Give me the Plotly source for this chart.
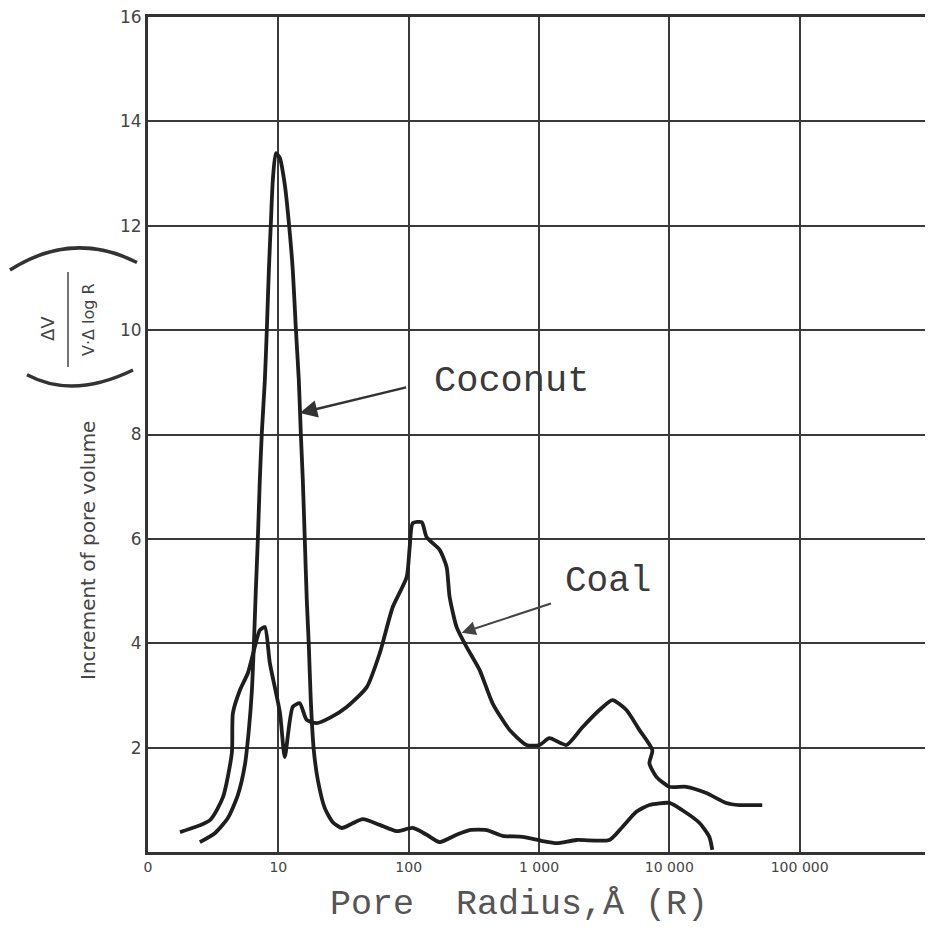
import math
import plotly.graph_objects as go

# Pore radius (Å) and increment of pore volume
coal_r = [1.76, 2.99, 3.76, 4.40, 4.48, 5.07, 5.84, 6.60, 7.21, 7.88, 8.61, 10.3, 11.2, 12.9, 14.6,
          16.5, 19.7, 24.8, 33.5, 47.7, 60.0, 75.4, 96.6, 101.8, 107.4, 125.9, 137.5, 172.9, 195.5,
          206.1, 233.3, 278.1, 349.9, 440.4, 594.4, 802, 1009, 1203, 1625, 2155, 2909, 3659, 4681,
          5888, 7409, 7031, 7950, 10000, 13490, 19220, 27370, 34390, 51640]
coal_v = [0.38, 0.61, 1.05, 1.90, 2.66, 3.10, 3.43, 3.93, 4.25, 4.31, 3.62, 2.66, 1.82, 2.78, 2.85,
          2.53, 2.47, 2.57, 2.78, 3.16, 3.81, 4.69, 5.27, 5.84, 6.30, 6.32, 6.03, 5.79, 5.46,
          4.89, 4.31, 3.93, 3.49, 2.85, 2.34, 2.05, 2.05, 2.18, 2.05, 2.39, 2.72, 2.91, 2.72,
          2.34, 1.95, 1.70, 1.44, 1.25, 1.25, 1.13, 0.94, 0.90, 0.90]

coconut_r = [2.50, 3.26, 4.10, 4.89, 5.54, 5.94, 6.27, 6.49, 6.72, 6.96, 7.21, 7.47, 7.88, 8.17,
             8.46, 8.77, 9.07, 9.57, 10.26, 11.22, 12.03, 12.91, 13.62, 14.36, 14.87, 15.41, 15.96,
             16.53, 17.13, 17.74, 18.71, 20.09, 22.72, 26.18, 30.68, 36.58, 44.42, 59.95, 80.90,
             107.4, 137.5, 172.9, 233.3, 293.3, 396.3, 525.3, 747.6, 1064, 1362, 1938, 3467, 4365,
             5585, 7031, 10000, 12590, 16980, 20270, 21360]
coconut_v = [0.19, 0.36, 0.65, 1.09, 1.67, 2.34, 3.10, 3.97, 5.02, 5.98, 7.13, 8.03, 9.04, 10.04,
             11.15, 12.07, 12.87, 13.39, 13.30, 12.78, 12.07, 11.15, 10.04, 9.04, 8.03, 7.13, 5.98,
             4.83, 3.97, 2.91, 1.95, 1.38, 0.84, 0.57, 0.46, 0.54, 0.63, 0.52, 0.40, 0.46, 0.33,
             0.19, 0.33, 0.42, 0.42, 0.31, 0.29, 0.21, 0.17, 0.23, 0.23, 0.48, 0.77, 0.90, 0.94,
             0.80, 0.56, 0.29, 0.04]

x_tickvals = [1, 10, 100, 1000, 10000, 100000]
x_ticktext = ["0", "10", "100", "1 000", "10 000", "100 000"]
y_tickvals = [2, 4, 6, 8, 10, 12, 14, 16]

# arrow anchor points (data units)
coconut_tip = (14.6, 8.41)
coconut_tail = (98.2, 8.91)
coal_tip = (255.0, 4.20)
coal_tail = (1268.0, 4.77)

LINE = "#1e1e1e"
GRID = "#3a3a3a"
TXT = "#444444"

fig = go.Figure()
fig.add_trace(go.Scatter(x=coal_r, y=coal_v, mode="lines", name="Coal",
                         line=dict(color=LINE, width=3.8, shape="spline", smoothing=0.6)))
fig.add_trace(go.Scatter(x=coconut_r, y=coconut_v, mode="lines", name="Coconut",
                         line=dict(color=LINE, width=3.8, shape="spline", smoothing=0.6)))


def L(v):
    return math.log10(v)


def txt(text, x, y, size, family="Liberation Mono", color="#3a3a3a", angle=0):
    return dict(text=text, x=x, y=y, xref="paper", yref="paper", showarrow=False,
                xanchor="center", yanchor="middle", textangle=angle,
                font=dict(family=family, size=size, color=color))


annotations = [
    txt("Coconut", 0.4642, 0.564, 37),
    txt("Coal", 0.588, 0.3234, 36),
    dict(text="", x=L(coconut_tip[0]), y=coconut_tip[1], ax=L(coconut_tail[0]), ay=coconut_tail[1],
         xref="x", yref="y", axref="x", ayref="y", showarrow=True, arrowhead=2, arrowsize=1.4,
         arrowwidth=2.5, arrowcolor="#333333"),
    dict(text="", x=L(coal_tip[0]), y=coal_tip[1], ax=L(coal_tail[0]), ay=coal_tail[1],
         xref="x", yref="y", axref="x", ayref="y", showarrow=True, arrowhead=2, arrowsize=1.4,
         arrowwidth=2, arrowcolor="#444444"),
    txt("Pore  Radius,Å (R)", 0.474, -0.0635, 35, color="#555555"),
    txt("Increment of pore volume", -0.0767, 0.3605, 20, family="DejaVu Sans", color=TXT, angle=-90),
    txt("ΔV", -0.1292, 0.6275, 18, family="DejaVu Sans", color=TXT, angle=-90),
    txt("V·Δ log R", -0.0767, 0.6371, 16, family="DejaVu Sans", color=TXT, angle=-90),
]

shapes = [
    # fraction bar
    dict(type="line", xref="paper", yref="paper", x0=-0.1023, x1=-0.1023, y0=0.5808, y1=0.6946,
         line=dict(color=TXT, width=1.5)),
    # big parentheses (rotated)
    dict(type="path", xref="paper", yref="paper",
         path="M -0.1765 0.6970 Q -0.0960 0.7450 -0.0141 0.7060",
         line=dict(color="#333333", width=3.5)),
    dict(type="path", xref="paper", yref="paper",
         path="M -0.1547 0.5715 Q -0.0960 0.5420 -0.0192 0.5772",
         line=dict(color="#333333", width=3.5)),
]

fig.update_layout(
    width=925, height=924,
    margin=dict(l=140, r=3, t=9, b=80, autoexpand=False),
    paper_bgcolor="white", plot_bgcolor="white",
    showlegend=False,
    annotations=annotations,
    shapes=shapes,
    xaxis=dict(type="log", range=[0, 6], tickvals=x_tickvals, ticktext=x_ticktext,
               showgrid=True, gridcolor=GRID, gridwidth=2, automargin=False,
               showline=True, linecolor="#333333", linewidth=3, mirror=True,
               ticks="", zeroline=False, ticklabeloverflow="allow",
               tickfont=dict(family="DejaVu Sans", size=14, color=TXT)),
    yaxis=dict(range=[0, 16], tickvals=y_tickvals,
               showgrid=True, gridcolor=GRID, gridwidth=2, automargin=False,
               showline=True, linecolor="#333333", linewidth=3, mirror=True,
               ticks="", zeroline=False, ticklabeloverflow="allow",
               tickfont=dict(family="DejaVu Sans", size=17, color=TXT)),
)

fig.write_html("out.html")
